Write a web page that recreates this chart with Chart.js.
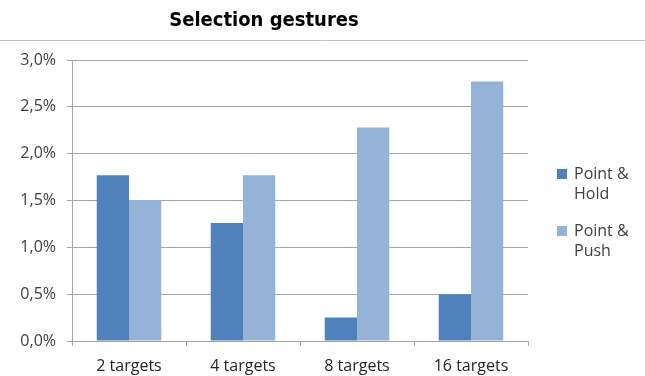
<!DOCTYPE html>
<html>
<head>
<meta charset="utf-8">
<script src="https://cdn.jsdelivr.net/npm/chart.js@4/dist/chart.umd.min.js"></script>
<style>
  html, body { margin: 0; padding: 0; background: #ffffff; }
  #wrap { width: 645px; height: 376px; position: relative; }
</style>
</head>
<body>
<div id="wrap"><canvas id="c"></canvas></div>
<script>
// Error rates (%) per number of targets for the two selection gestures
const categories = ['2 targets', '4 targets', '8 targets', '16 targets'];
const seriesLabels = ['Point & Hold', 'Point & Push'];
const pointHold = [1.77, 1.26, 0.25, 0.50];
const pointPush = [1.50, 1.77, 2.28, 2.77];
const yTickValues = [0, 0.5, 1.0, 1.5, 2.0, 2.5, 3.0];

const DARK = '#4f81bd';
const LIGHT = '#95b3d7';
const GRID = '#a6a6a6';
const TEXT_FONT = "'Open Sans', 'Liberation Sans', sans-serif";

const fmtPct = v => v.toFixed(1).replace('.', ',') + '%';

// thin rule under the title
const titleRule = {
  id: 'titleRule',
  afterDraw(chart) {
    const ctx = chart.ctx;
    ctx.save();
    ctx.strokeStyle = '#c0c0c0';
    ctx.lineWidth = 1;
    ctx.beginPath();
    ctx.moveTo(0, 40.5);
    ctx.lineTo(chart.width, 40.5);
    ctx.stroke();
    ctx.restore();
  }
};

// legend on the right with labels wrapped over two lines
const wrappedLegend = {
  id: 'wrappedLegend',
  afterDraw(chart) {
    const ctx = chart.ctx;
    const x0 = chart.chartArea.right + 29;
    const startY = 169;
    const itemGap = 57;
    const lineH = 20;
    ctx.save();
    ctx.font = '16px ' + TEXT_FONT;
    ctx.textBaseline = 'middle';
    chart.data.datasets.forEach((ds, i) => {
      const y = startY + i * itemGap;
      ctx.fillStyle = ds.backgroundColor;
      ctx.fillRect(x0, y, 10, 10);
      ctx.fillStyle = '#404040';
      const words = ds.label.split(' ');
      const lines = [words.slice(0, 2).join(' '), words.slice(2).join(' ')];
      lines.forEach((ln, j) => ctx.fillText(ln, x0 + 17, y + 5 + j * lineH));
    });
    ctx.restore();
  }
};

new Chart(document.getElementById('c'), {
  type: 'bar',
  data: {
    labels: categories,
    datasets: [
      { label: seriesLabels[0], data: pointHold, backgroundColor: DARK },
      { label: seriesLabels[1], data: pointPush, backgroundColor: LIGHT }
    ]
  },
  options: {
    responsive: true,
    maintainAspectRatio: false,
    animation: false,
    devicePixelRatio: 1,
    layout: { padding: { left: 0, right: 117, top: 0, bottom: 0 } },
    datasets: { bar: { categoryPercentage: 0.566, barPercentage: 1.0 } },
    plugins: {
      legend: { display: false },
      tooltip: { enabled: false },
      title: {
        display: true,
        text: 'Selection gestures',
        color: '#000000',
        font: { family: "'DejaVu Sans Condensed', 'DejaVu Sans', sans-serif", size: 20, weight: 'bold', lineHeight: 1.2 },
        padding: { top: 9, bottom: 27 }
      }
    },
    scales: {
      x: {
        grid: { offset: true, drawOnChartArea: false, drawTicks: true, tickLength: 5, color: GRID },
        border: { color: GRID },
        ticks: { color: '#262626', font: { family: TEXT_FONT, size: 16 }, padding: 11 },
        afterFit(scale) { scale.height = 35; }
      },
      y: {
        min: 0,
        max: 3.0,
        afterBuildTicks(scale) { scale.ticks = yTickValues.map(v => ({ value: v })); },
        grid: { color: GRID, tickLength: 5 },
        border: { color: GRID },
        ticks: { color: '#404040', font: { family: TEXT_FONT, size: 16 }, padding: 11, callback: v => fmtPct(v) },
        afterFit(scale) { scale.width = 72; }
      }
    }
  },
  plugins: [titleRule, wrappedLegend]
});
</script>
</body>
</html>
